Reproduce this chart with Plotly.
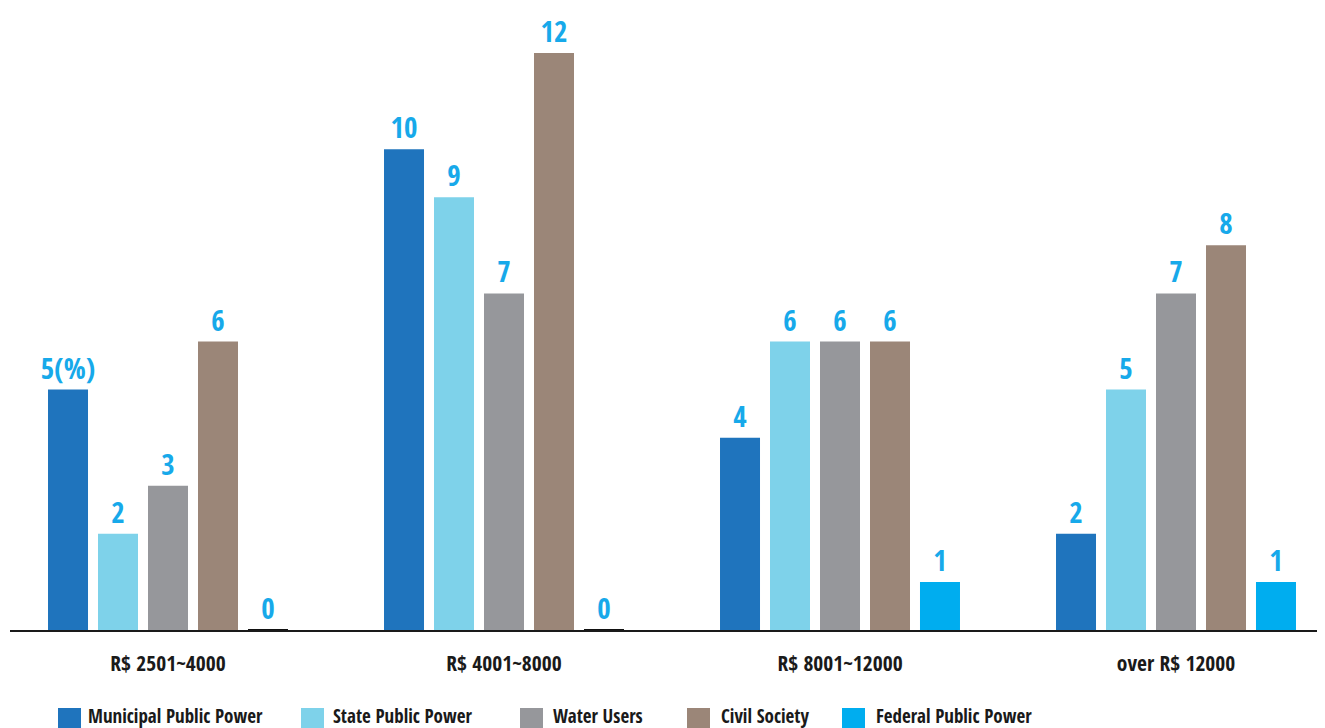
import plotly.graph_objects as go

categories = ["R$ 2501~4000", "R$ 4001~8000", "R$ 8001~12000", "over R$ 12000"]
series_names = ["Municipal Public Power", "State Public Power", "Water Users",
                "Civil Society", "Federal Public Power"]
municipal = [5, 10, 4, 2]
state = [2, 9, 6, 5]
water = [3, 7, 6, 7]
civil = [6, 12, 6, 8]
federal = [0, 0, 1, 1]
series_values = [municipal, state, water, civil, federal]
colors = ["#1f74bd", "#7ed2ea", "#96979b", "#9b8678", "#00adef"]

FONT = "Open Sans Condensed, Roboto Condensed, Roboto, sans-serif"
LABEL_COLOR = "#17a9ea"

# the page has an 8px body margin; work in screen pixels and convert
OFF = 8
W, H = 1325 - OFF, 728 - OFF
ML, MR, MT = 10 - OFF, 0, 0
BASE_Y = 630 - OFF
MB = H - BASE_Y
PW = W - ML - MR
PH = H - MT - MB

fig = go.Figure()
xs = list(range(len(categories)))
for si, (name, vals, col) in enumerate(zip(series_names, series_values, colors)):
    texts = [str(v) for v in vals]
    if si == 0:
        texts[0] = texts[0] + "(%)"
    # zero-height bars get a short dark outline, as in the reference
    lw = [2 if v == 0 else 0 for v in vals]
    fig.add_trace(go.Bar(
        x=xs, y=vals, name=name,
        marker=dict(color=col, line=dict(width=lw, color="#111111")),
        text=texts, textposition="outside", cliponaxis=False, constraintext="none",
        textfont=dict(family=FONT, size=29, color=LABEL_COLOR, weight="bold"),
        showlegend=False,
    ))

px_per_cat = 336.0
x0 = -(168 - OFF - ML) / px_per_cat
x1 = x0 + PW / px_per_cat
px_per_unit = 48.08

fig.update_layout(
    width=W, height=H,
    margin=dict(l=ML, r=MR, t=MT, b=MB),
    plot_bgcolor="white", paper_bgcolor="white",
    barmode="group", bargap=0.256, bargroupgap=0.2,
    xaxis=dict(range=[x0, x1], tickvals=xs, ticktext=categories,
               showline=True, linecolor="#1a1a1a", linewidth=1.5,
               showgrid=False, zeroline=False, ticks="",
               ticklabelstandoff=13,
               tickfont=dict(family=FONT, size=21.5, color="#1a1a1a", weight="bold")),
    yaxis=dict(range=[0, PH / px_per_unit], visible=False, showgrid=False, zeroline=False),
)

# custom legend (large square swatches), screen pixel positions
sq_left = [58, 301, 520, 687, 842]
txt_left = [86, 331, 551, 719, 874]
SQ = 23
sq_top = 708

def xp(px):
    return (px - OFF - ML) / PW

def yp(py):
    return (H - MB - (py - OFF)) / PH

for name, col, sl, tl in zip(series_names, colors, sq_left, txt_left):
    fig.add_shape(type="rect", xref="paper", yref="paper",
                  x0=xp(sl), x1=xp(sl + SQ), y0=yp(sq_top + SQ), y1=yp(sq_top),
                  fillcolor=col, line=dict(width=0))
    fig.add_annotation(xref="paper", yref="paper", x=xp(tl), y=yp(sq_top + 8),
                       xanchor="left", yanchor="middle", showarrow=False,
                       text=name,
                       font=dict(family=FONT, size=19, color="#1a1a1a", weight="bold"))

fig.write_html("out.html")
